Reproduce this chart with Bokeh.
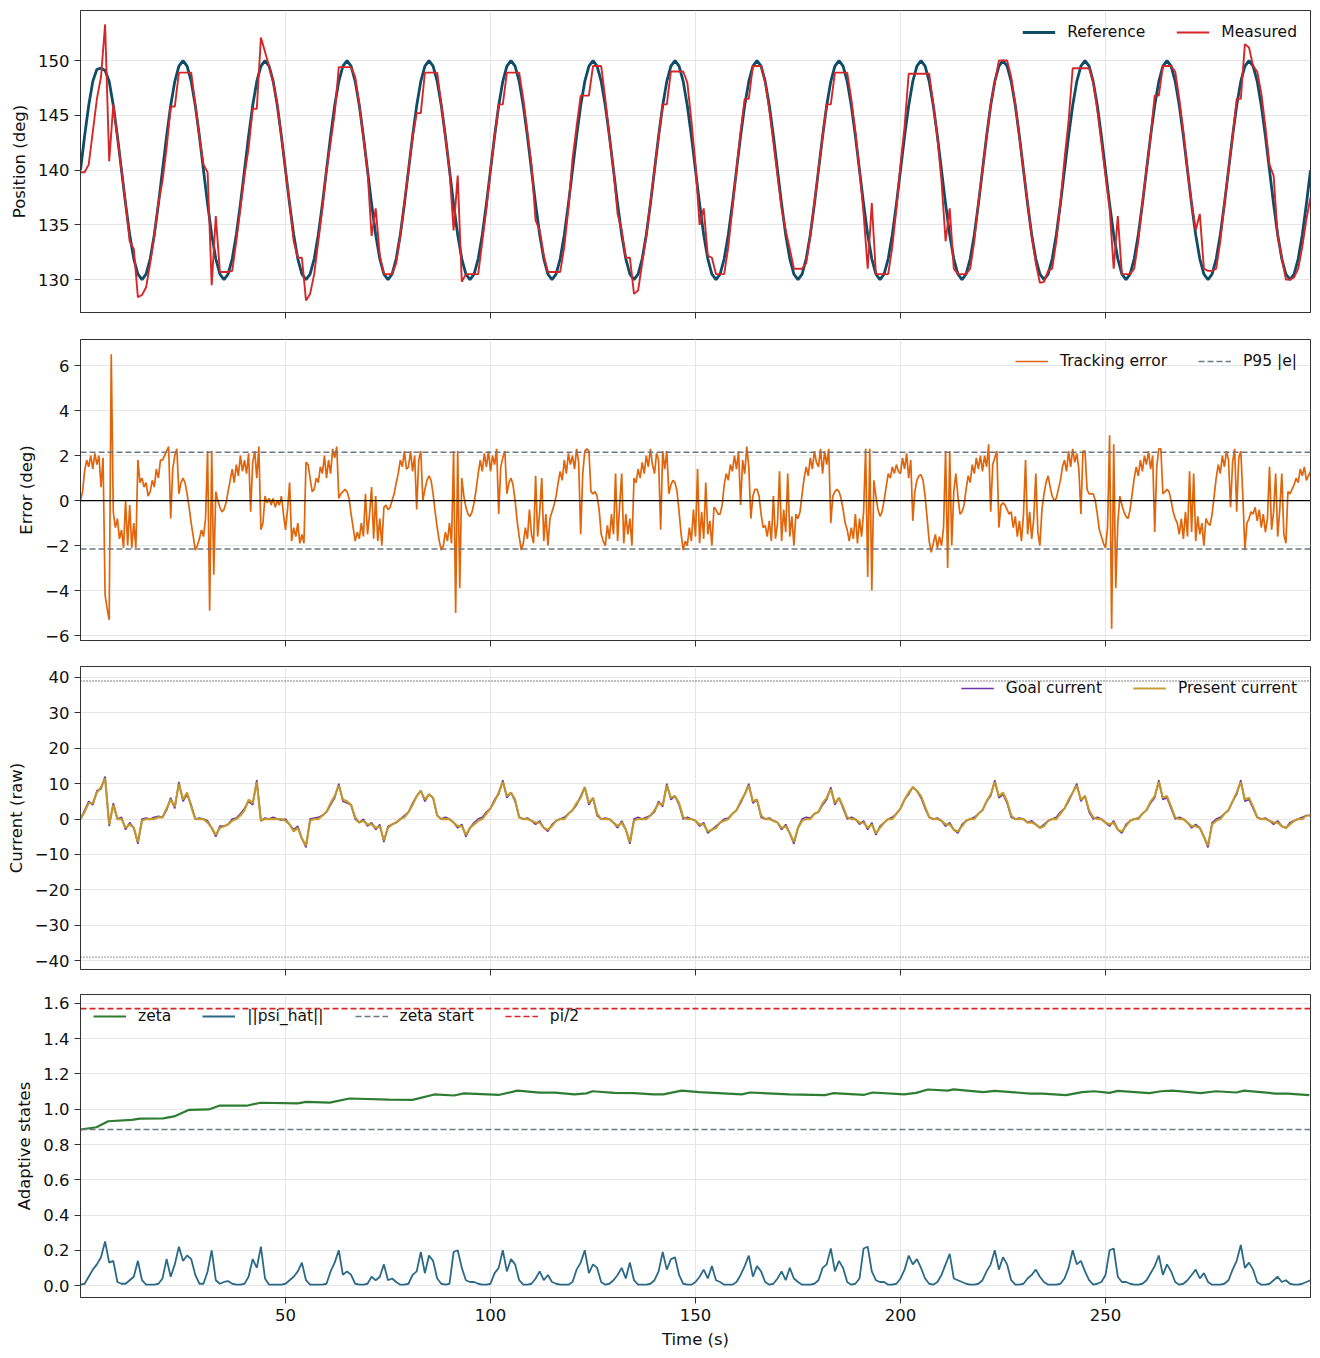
import math
from bokeh.plotting import figure
from bokeh.layouts import column
from bokeh.models import Range1d, FixedTicker, Legend, LegendItem, Span
from bokeh.embed import file_html
from bokeh.resources import INLINE

# ---------------- data ----------------
DT = 1.0       # s, sampling of position / current / psi series
DT_ERR = 0.5   # s, sampling of tracking error series

reference_deg = [
    140.0, 143.1, 145.9, 148.1, 149.2, 149.3, 149.1, 148.1, 145.9, 143.1, 140.0, 136.9, 134.1, 131.9, 130.5, 130.0, 130.5, 131.9, 134.1, 136.9,
    140.0, 143.1, 145.9, 148.1, 149.5, 150.0, 149.5, 148.1, 145.9, 143.1, 140.0, 136.9, 134.1, 131.9, 130.5, 130.0, 130.5, 131.9, 134.1, 136.9,
    140.0, 143.1, 145.9, 148.1, 149.5, 150.0, 149.5, 148.1, 145.9, 143.1, 140.0, 136.9, 134.1, 131.9, 130.5, 130.0, 130.5, 131.9, 134.1, 136.9,
    140.0, 143.1, 145.9, 148.1, 149.5, 150.0, 149.5, 148.1, 145.9, 143.1, 140.0, 136.9, 134.1, 131.9, 130.5, 130.0, 130.5, 131.9, 134.1, 136.9,
    140.0, 143.1, 145.9, 148.1, 149.5, 150.0, 149.5, 148.1, 145.9, 143.1, 140.0, 136.9, 134.1, 131.9, 130.5, 130.0, 130.5, 131.9, 134.1, 136.9,
    140.0, 143.1, 145.9, 148.1, 149.5, 150.0, 149.5, 148.1, 145.9, 143.1, 140.0, 136.9, 134.1, 131.9, 130.5, 130.0, 130.5, 131.9, 134.1, 136.9,
    140.0, 143.1, 145.9, 148.1, 149.5, 150.0, 149.5, 148.1, 145.9, 143.1, 140.0, 136.9, 134.1, 131.9, 130.5, 130.0, 130.5, 131.9, 134.1, 136.9,
    140.0, 143.1, 145.9, 148.1, 149.5, 150.0, 149.5, 148.1, 145.9, 143.1, 140.0, 136.9, 134.1, 131.9, 130.5, 130.0, 130.5, 131.9, 134.1, 136.9,
    140.0, 143.1, 145.9, 148.1, 149.5, 150.0, 149.5, 148.1, 145.9, 143.1, 140.0, 136.9, 134.1, 131.9, 130.5, 130.0, 130.5, 131.9, 134.1, 136.9,
    140.0, 143.1, 145.9, 148.1, 149.5, 150.0, 149.5, 148.1, 145.9, 143.1, 140.0, 136.9, 134.1, 131.9, 130.5, 130.0, 130.5, 131.9, 134.1, 136.9,
    140.0, 143.1, 145.9, 148.1, 149.5, 150.0, 149.5, 148.1, 145.9, 143.1, 140.0, 136.9, 134.1, 131.9, 130.5, 130.0, 130.5, 131.9, 134.1, 136.9,
    140.0, 143.1, 145.9, 148.1, 149.5, 150.0, 149.5, 148.1, 145.9, 143.1, 140.0, 136.9, 134.1, 131.9, 130.5, 130.0, 130.5, 131.9, 134.1, 136.9,
    140.0, 143.1, 145.9, 148.1, 149.5, 150.0, 149.5, 148.1, 145.9, 143.1, 140.0, 136.9, 134.1, 131.9, 130.5, 130.0, 130.5, 131.9, 134.1, 136.9,
    140.0, 143.1, 145.9, 148.1, 149.5, 150.0, 149.5, 148.1, 145.9, 143.1, 140.0, 136.9, 134.1, 131.9, 130.5, 130.0, 130.5, 131.9, 134.1, 136.9,
    140.0, 143.1, 145.9, 148.1, 149.5, 150.0, 149.5, 148.1, 145.9, 143.1, 140.0, 136.9, 134.1, 131.9, 130.5, 130.0, 130.5, 131.9, 134.1, 136.9,
    140.0,
]

measured_deg = [
    139.8, 139.8, 140.5, 143.5, 146.5, 148.5, 153.3, 140.8, 146.0, 143.0, 140.0, 137.0, 133.5, 132.8, 128.4, 128.6, 129.3, 131.5, 134.0, 137.0,
    139.0, 142.0, 145.8, 145.8, 148.9, 148.9, 148.9, 148.9, 146.0, 143.0, 140.5, 139.8, 129.5, 135.8, 130.7, 130.7, 130.7, 130.8, 133.5, 136.5,
    139.5, 142.0, 145.6, 145.6, 152.1, 150.8, 149.5, 148.0, 146.0, 143.0, 140.0, 137.0, 133.5, 132.0, 132.0, 128.1, 128.7, 130.5, 133.5, 136.5,
    140.0, 142.5, 145.2, 149.4, 149.4, 149.4, 149.4, 148.5, 146.0, 143.0, 140.0, 134.0, 136.5, 132.2, 130.5, 130.5, 130.5, 131.5, 134.0, 137.0,
    140.0, 143.0, 145.2, 145.2, 148.9, 148.9, 148.9, 148.9, 146.0, 143.0, 140.0, 134.5, 139.5, 129.8, 130.5, 130.5, 130.5, 130.5, 133.5, 136.5,
    140.0, 143.0, 146.0, 146.0, 148.9, 148.9, 148.9, 148.9, 146.5, 143.5, 140.5, 135.4, 134.5, 132.2, 130.7, 130.7, 130.7, 130.7, 133.0, 136.5,
    141.0, 144.0, 146.8, 146.8, 146.8, 149.5, 149.5, 149.5, 146.5, 143.0, 140.0, 136.0, 134.5, 132.0, 132.0, 128.7, 129.0, 131.5, 134.0, 137.0,
    140.0, 143.0, 146.0, 146.0, 149.0, 149.0, 149.0, 149.0, 148.0, 144.5, 140.5, 135.0, 136.5, 132.2, 132.0, 130.5, 130.5, 130.5, 133.0, 136.5,
    140.0, 143.5, 146.5, 146.5, 149.5, 149.5, 149.5, 148.0, 145.5, 142.5, 139.5, 136.5, 134.5, 132.8, 131.0, 131.0, 131.0, 131.5, 134.0, 137.0,
    140.0, 143.0, 146.0, 146.0, 148.9, 148.9, 148.9, 148.9, 146.5, 143.5, 140.0, 136.0, 131.0, 137.0, 130.5, 130.5, 130.5, 130.5, 133.0, 136.5,
    140.5, 144.0, 148.8, 148.8, 148.8, 148.8, 148.8, 148.8, 146.0, 143.0, 139.0, 133.5, 136.5, 131.0, 130.5, 130.5, 130.5, 131.0, 133.5, 137.0,
    140.0, 143.0, 146.0, 148.0, 150.0, 150.0, 150.0, 148.5, 146.0, 143.0, 140.0, 137.0, 134.0, 131.5, 129.7, 129.8, 130.8, 131.0, 133.5, 137.0,
    141.0, 144.5, 149.3, 149.3, 149.3, 149.3, 149.3, 148.0, 145.5, 142.5, 139.5, 136.5, 131.0, 135.8, 130.5, 130.5, 130.5, 131.0, 133.5, 137.0,
    140.0, 143.0, 146.8, 146.8, 149.5, 149.5, 149.5, 149.0, 146.5, 143.5, 140.0, 137.0, 134.5, 136.0, 131.0, 130.8, 130.8, 131.0, 133.5, 137.0,
    140.0, 143.0, 146.5, 146.5, 151.5, 151.2, 149.5, 149.0, 147.0, 144.0, 140.5, 139.5, 134.0, 132.0, 130.0, 130.0, 130.2, 131.0, 133.0, 135.5,
    137.5,
]

tracking_error_deg = [
    0.0, 0.4, 1.3, 1.8, 1.5, 2.0, 1.4, 2.1, 1.6, 2.0, 0.6, 1.9, -4.2, -4.8, -5.3, 6.5, -0.5, -1.2, -0.8, -1.7,
    -1.3, -2.1, 0.0, -2.0, -0.2, -2.1, -1.0, -2.1, 1.8, 0.8, 1.0, 0.6, 0.8, 0.2, 0.4, 0.9, 0.6, 1.4, 1.0, 1.8,
    1.8, 2.0, 2.2, 2.4, -0.8, 1.4, 2.0, 2.3, 0.3, 0.8, 1.0, 0.8, 0.3, -0.3, -1.0, -1.6, -2.2, -2.0, -1.7, -1.3,
    -1.6, -0.8, 2.2, -4.9, 2.2, -3.3, 0.4, 0.0, -0.3, -0.5, -0.4, -0.1, 0.4, 0.9, 1.4, 0.8, 1.6, 1.1, 2.0, 1.3,
    1.8, 1.2, 2.1, -0.5, 1.7, 2.2, 1.0, 2.4, -1.3, -1.0, 0.2, -0.1, 0.1, -0.2, 0.1, -0.3, 0.0, -0.2, 0.2, -0.6,
    -1.3, -0.4, 0.8, -1.8, -1.2, -1.6, -1.0, -1.9, -1.5, -1.9, 1.7, 1.6, 1.0, 0.4, 0.5, 1.0, 0.8, 1.5, 1.2, 2.0,
    1.0, 1.8, 1.2, 2.3, 1.9, 2.4, 0.1, 0.3, 0.4, 0.5, 0.4, 0.1, -0.6, -1.2, -1.8, -1.4, -1.7, -1.0, -1.6, 0.3,
    -1.5, -0.6, 0.6, -1.7, 0.2, -1.8, -0.8, -2.0, -0.3, -0.2, -0.4, -0.3, 0.0, 0.3, 0.8, 1.2, 1.8, 1.5, 2.2, 1.4,
    1.5, 2.2, 1.3, 2.0, -0.4, 1.8, 2.2, 0.0, 0.5, 0.9, 1.1, 0.9, 0.3, -0.5, -1.2, -1.8, -2.2, -2.0, -1.4, -1.8,
    -1.0, -1.9, 2.2, -5.0, 2.2, -3.9, 1.0, 0.2, -0.3, -0.6, -0.7, -0.5, -0.1, 0.5, 1.2, 1.8, 1.3, 2.1, 1.5, 2.2,
    1.3, 2.0, 1.6, 2.3, -0.6, 1.5, 1.9, 2.2, 0.3, 0.8, 1.0, 0.7, 0.0, -0.9, -1.6, -2.2, -1.9, -1.2, -1.7, -0.4,
    -1.5, -1.9, 1.1, -1.6, -0.5, 1.0, -1.8, -0.6, -2.0, -0.8, -0.5, -0.2, 0.2, 0.8, 1.3, 0.9, 1.8, 1.2, 2.1, 1.6,
    2.0, 1.4, 2.3, 1.7, -1.5, 1.2, 2.2, 2.3, 2.2, 0.4, 0.3, 0.4, 0.2, -0.4, -1.5, -1.8, -2.0, -1.1, -1.7, -0.6,
    -1.5, 1.2, -1.8, -0.2, 1.2, -1.9, -0.6, -1.5, -0.8, -2.0, 1.0, 0.8, 1.4, 1.0, 1.7, 1.2, 2.0, 1.5, 2.3, 1.6,
    1.2, 2.1, 1.8, -1.3, 2.2, 1.4, 2.2, 0.3, 0.7, 0.9, 0.8, 0.4, -0.5, -1.5, -2.2, -1.8, -2.0, -1.2, -1.8, -0.4,
    -1.6, 1.4, -1.9, -0.5, -1.7, 0.8, -1.5, -0.9, -2.0, -0.3, -0.4, -0.6, -0.6, -0.2, 0.7, 1.2, 0.9, 1.6, 1.3, 2.0,
    1.4, 2.2, -0.2, 1.8, 1.2, 2.4, 1.5, -0.8, 0.2, 0.5, 0.5, 0.2, -0.6, -1.2, -1.1, -1.6, -0.9, -1.8, 0.2, -1.7,
    -1.0, 1.3, -1.8, -0.4, -1.4, 1.2, -1.6, -0.7, -2.0, -0.6, -0.8, -0.5, 0.3, 1.0, 1.5, 1.1, 1.9, 1.4, 2.2, 1.7,
    1.5, 2.3, 1.2, 2.2, 1.6, 2.3, -1.0, 0.2, 0.4, 0.5, 0.4, 0.1, -0.4, -1.0, -1.3, -1.8, -1.2, -1.7, -0.6, -1.9,
    -0.8, -1.6, -0.5, 2.3, -3.4, 2.3, -4.0, 0.9, 0.2, -0.4, -0.7, -0.5, 0.0, 0.6, 1.2, 1.0, 1.5, 1.2, 1.6, 1.3,
    1.2, 1.9, 1.4, 2.1, 1.0, 1.8, -0.9, 0.4, 0.9, 1.1, 1.15, 0.9, 0.2, -0.8, -1.8, -2.3, -1.9, -1.5, -2.1, -1.6,
    -2.0, -1.2, 2.2, -3.0, 2.2, -2.0, 0.4, 1.2, 0.2, -0.6, -0.5, -0.2, 0.5, 1.1, 0.8, 1.6, 1.2, 1.9, 1.4, 2.0,
    1.3, 2.0, 1.5, 2.5, -0.5, 1.6, 1.9, 2.2, -1.2, -0.2, -0.1, -0.2, -0.4, -0.6, -0.5, -1.2, -0.7, -1.6, -0.9, -1.8,
    -0.6, 1.8, -1.5, -0.5, -1.7, -0.8, 1.2, -1.4, -2.0, -0.4, 0.3, 0.8, 1.1, 0.6, 0.2, 0.0, 0.1, 0.5, 0.9, 1.5,
    1.8, 1.3, 2.2, 1.5, 2.3, 1.7, 2.1, 1.4, -0.6, 2.2, 2.2, 0.5, 0.3, 0.3, 0.3, 0.0, -0.6, -1.3, -1.6, -1.9,
    -2.1, -1.2, 2.9, -5.7, 2.5, -3.9, -1.0, 0.2, -0.2, -0.5, -0.7, -0.8, -0.4, 0.3, 1.0, 1.5, 1.1, 1.8, 1.3, 2.0,
    1.6, 2.2, 1.4, 2.0, -1.4, 1.5, 2.3, 2.3, 0.3, 0.4, 0.5, 0.4, 0.0, -0.5, -0.8, -1.0, -1.5, -0.8, -1.7, -0.5,
    -1.6, 1.3, -1.4, 1.2, -1.8, -0.7, -1.5, -1.0, -2.0, -0.8, -1.0, -1.1, -0.6, 0.2, 1.0, 1.6, 1.2, 2.0, 1.5, 2.2,
    1.8, -0.3, 1.7, 2.3, -0.5, 1.9, 2.2, 0.2, -2.2, -1.0, -0.8, -0.5, -0.6, -0.3, -0.9, -0.4, -1.2, -0.6, -1.4, -0.8,
    1.5, -1.3, -0.5, 1.2, -1.6, -0.4, 1.2, -1.5, -1.9, 0.4, 0.3, 0.5, 0.7, 1.0, 0.8, 1.4, 1.1, 1.5, 0.9, 1.1,
    1.3,
]
P95_ABS_ERROR = 2.15

goal_current = [
    0.0, 2.5, 5.0, 4.0, 8.0, 8.5, 12.0, -2.0, 4.5, 0.0, 0.5, -3.0, -1.0, -2.5, -7.0, 0.0, 0.3, 0.0, 0.5, 0.8,
    0.5, 2.5, 6.0, 3.0, 10.5, 5.0, 7.0, 4.0, 0.0, 0.3, 0.0, -0.5, -2.5, -5.0, -2.0, -2.0, -1.5, 0.0, 0.3, 1.5,
    3.0, 5.0, 4.0, 11.0, -0.5, 0.3, 0.0, 0.5, 0.0, -0.3, 0.0, -1.5, -3.0, -2.0, -5.5, -8.0, 0.0, 0.3, 0.5, 1.0,
    2.0, 4.0, 6.0, 10.0, 5.0, 4.5, 4.0, 0.0, -1.0, 0.0, -2.0, -1.0, -3.0, -1.5, -6.5, -2.0, -1.5, -1.0, 0.0, 1.0,
    2.0, 4.5, 6.5, 8.0, 5.0, 7.0, 6.0, 1.0, 0.0, 0.5, 0.0, -1.0, -2.5, -1.5, -5.0, -2.5, -1.0, 0.0, 0.5, 2.0,
    3.0, 5.5, 7.0, 11.0, 6.0, 7.5, 5.0, 0.5, 0.0, 0.3, -0.5, -1.5, -0.5, -2.5, -3.5, -1.5, -0.5, 0.0, 0.5, 1.5,
    2.5, 4.0, 6.5, 9.0, 4.0, 6.0, 1.0, 0.0, 0.3, 0.0, -1.0, -2.5, -0.5, -3.0, -7.0, 0.0, 0.5, 0.0, 0.5, 1.0,
    2.0, 5.0, 3.5, 10.0, 5.5, 6.5, 4.0, 0.0, 0.5, 0.0, -0.5, -2.0, -1.0, -4.0, -3.0, -2.0, -1.0, 0.0, 0.3, 1.5,
    2.5, 4.5, 7.0, 10.0, 4.5, 5.5, 0.5, 0.0, 0.3, -0.5, -1.0, -3.0, -1.5, -4.0, -7.0, -2.5, 0.0, 0.5, 0.3, 1.5,
    2.0, 4.0, 5.5, 9.0, 4.0, 6.0, 3.0, 0.0, 0.5, 0.0, -1.5, -0.5, -3.0, -1.0, -4.5, -2.0, -1.0, 0.0, 0.5, 1.5,
    3.0, 5.5, 7.0, 9.0, 8.0, 6.0, 3.0, 0.5, 0.0, 0.3, -0.5, -2.0, -1.0, -3.0, -4.0, -1.5, -0.5, 0.0, 0.5, 1.5,
    2.5, 5.0, 6.5, 11.0, 6.0, 7.0, 4.5, 0.5, 0.0, 0.3, 0.0, -1.0, -0.5, -1.5, -2.5, -1.5, -0.5, 0.0, 0.5, 2.0,
    3.0, 5.0, 7.5, 10.0, 5.0, 6.5, 2.0, 0.0, 0.5, 0.0, -1.0, -2.0, -0.5, -3.0, -4.0, -1.5, -0.5, 0.0, 0.3, 1.5,
    2.5, 4.5, 6.0, 11.0, 5.5, 6.0, 3.0, 0.0, 0.5, 0.0, -1.0, -2.5, -1.5, -2.5, -5.0, -8.0, -1.0, 0.0, 0.5, 1.5,
    2.5, 5.0, 7.0, 11.0, 5.0, 5.5, 3.0, 0.5, 0.0, 0.3, -0.5, -1.5, -0.5, -2.0, -2.5, -1.0, -0.5, 0.0, 0.5, 1.0,
    1.0,
]

present_current = [
    0.0, 2.0, 4.5, 4.5, 7.5, 9.0, 11.5, -1.5, 4.0, 0.0, 0.0, -2.5, -1.5, -2.5, -6.5, -0.5, 0.0, 0.0, 0.0, 0.5,
    0.5, 3.0, 5.5, 3.5, 10.0, 5.5, 7.5, 3.5, 0.0, 0.0, 0.0, -1.0, -2.5, -4.5, -2.5, -2.0, -1.5, -0.5, 0.0, 1.0,
    2.5, 5.5, 4.5, 10.5, -0.5, 0.0, 0.0, 0.0, 0.0, 0.0, -0.5, -1.5, -3.5, -2.5, -5.5, -7.5, -0.5, 0.0, 0.0, 1.0,
    2.0, 4.5, 6.5, 9.5, 5.5, 5.0, 4.0, 0.5, -1.0, -0.5, -1.5, -1.5, -2.5, -2.0, -6.0, -2.5, -1.5, -1.0, 0.0, 0.5,
    2.0, 4.0, 6.5, 8.0, 5.5, 7.0, 6.0, 1.0, 0.0, 0.0, 0.0, -1.0, -2.0, -2.0, -4.5, -2.5, -1.5, -0.5, 0.0, 1.5,
    3.0, 5.0, 7.5, 10.5, 6.5, 7.5, 5.5, 0.5, 0.0, 0.0, -0.5, -1.0, -1.0, -2.5, -3.0, -2.0, -0.5, 0.0, 0.0, 1.5,
    2.5, 4.5, 6.0, 9.0, 4.5, 6.0, 1.5, 0.0, 0.0, 0.0, -1.0, -2.0, -1.0, -3.0, -6.5, -0.5, 0.0, 0.0, 0.0, 1.0,
    2.5, 4.5, 4.0, 9.5, 6.0, 6.5, 4.5, 0.5, 0.0, 0.0, -0.5, -1.5, -1.5, -3.5, -3.0, -2.5, -1.0, -0.5, 0.0, 1.5,
    2.5, 5.0, 7.0, 9.5, 5.0, 5.5, 1.0, 0.0, 0.0, -0.5, -1.0, -2.5, -2.0, -4.0, -6.5, -2.5, -0.5, 0.0, 0.0, 1.5,
    2.0, 4.5, 6.0, 8.5, 4.5, 6.0, 3.5, 0.5, 0.0, 0.0, -1.0, -1.0, -2.5, -1.5, -4.0, -2.5, -1.0, 0.0, 0.0, 1.5,
    3.0, 5.5, 7.5, 9.0, 8.0, 6.5, 3.5, 0.5, 0.0, 0.0, -0.5, -1.5, -1.5, -3.0, -3.5, -2.0, -0.5, 0.0, 0.0, 1.5,
    2.5, 5.0, 7.0, 10.5, 6.5, 7.5, 5.0, 1.0, 0.0, 0.0, 0.0, -1.0, -1.0, -1.5, -2.5, -2.0, -0.5, 0.0, 0.0, 1.5,
    3.0, 5.5, 7.5, 9.5, 5.5, 6.5, 2.5, 0.5, 0.0, 0.0, -1.0, -1.5, -1.0, -3.0, -3.5, -2.0, -0.5, 0.0, 0.0, 1.5,
    2.5, 5.0, 6.5, 10.5, 6.0, 6.5, 3.5, 0.5, 0.0, 0.0, -1.0, -2.0, -2.0, -2.5, -5.0, -7.5, -1.5, -0.5, 0.0, 1.5,
    2.5, 5.0, 7.5, 10.5, 5.5, 6.0, 3.5, 0.5, 0.0, 0.0, -0.5, -1.0, -1.0, -2.0, -2.5, -1.5, -0.5, 0.0, 0.0, 1.0,
    1.0,
]
CURRENT_LIMIT = 39.0

psi_hat_norm = [
    0.005, 0.01, 0.05, 0.09, 0.12, 0.16, 0.25, 0.13, 0.14, 0.02, 0.01, 0.01, 0.03, 0.05, 0.14, 0.03, 0.005, 0.005, 0.005, 0.01,
    0.04, 0.15, 0.05, 0.12, 0.22, 0.14, 0.17, 0.15, 0.06, 0.01, 0.01, 0.08, 0.20, 0.03, 0.01, 0.02, 0.025, 0.01, 0.005, 0.005,
    0.01, 0.05, 0.15, 0.10, 0.22, 0.04, 0.005, 0.005, 0.005, 0.005, 0.01, 0.03, 0.05, 0.08, 0.13, 0.03, 0.005, 0.005, 0.005, 0.005,
    0.01, 0.08, 0.13, 0.20, 0.06, 0.08, 0.06, 0.01, 0.005, 0.005, 0.01, 0.05, 0.03, 0.05, 0.12, 0.03, 0.04, 0.02, 0.005, 0.005,
    0.01, 0.06, 0.08, 0.19, 0.07, 0.17, 0.14, 0.04, 0.01, 0.005, 0.01, 0.19, 0.20, 0.10, 0.03, 0.02, 0.02, 0.01, 0.005, 0.005,
    0.01, 0.07, 0.10, 0.20, 0.08, 0.15, 0.12, 0.03, 0.005, 0.005, 0.01, 0.04, 0.08, 0.03, 0.06, 0.02, 0.01, 0.005, 0.005, 0.005,
    0.02, 0.09, 0.13, 0.20, 0.07, 0.12, 0.10, 0.02, 0.005, 0.01, 0.03, 0.06, 0.10, 0.04, 0.13, 0.03, 0.005, 0.005, 0.005, 0.01,
    0.03, 0.08, 0.19, 0.09, 0.15, 0.16, 0.06, 0.01, 0.005, 0.005, 0.02, 0.05, 0.09, 0.04, 0.11, 0.03, 0.02, 0.005, 0.005, 0.005,
    0.02, 0.06, 0.11, 0.17, 0.05, 0.11, 0.08, 0.02, 0.005, 0.01, 0.04, 0.08, 0.03, 0.10, 0.04, 0.02, 0.005, 0.005, 0.005, 0.01,
    0.03, 0.10, 0.12, 0.21, 0.08, 0.14, 0.10, 0.02, 0.005, 0.01, 0.04, 0.21, 0.22, 0.08, 0.03, 0.02, 0.02, 0.005, 0.005, 0.01,
    0.04, 0.09, 0.17, 0.12, 0.15, 0.10, 0.04, 0.01, 0.005, 0.02, 0.06, 0.12, 0.18, 0.04, 0.03, 0.02, 0.01, 0.005, 0.005, 0.01,
    0.03, 0.08, 0.12, 0.20, 0.09, 0.16, 0.12, 0.03, 0.005, 0.005, 0.01, 0.04, 0.06, 0.09, 0.05, 0.02, 0.005, 0.005, 0.005, 0.01,
    0.04, 0.10, 0.20, 0.12, 0.14, 0.08, 0.03, 0.005, 0.01, 0.02, 0.06, 0.20, 0.21, 0.05, 0.02, 0.02, 0.01, 0.005, 0.005, 0.01,
    0.03, 0.07, 0.11, 0.17, 0.06, 0.12, 0.08, 0.02, 0.005, 0.01, 0.03, 0.06, 0.09, 0.04, 0.07, 0.02, 0.005, 0.005, 0.005, 0.01,
    0.03, 0.09, 0.14, 0.23, 0.10, 0.13, 0.09, 0.02, 0.005, 0.005, 0.01, 0.03, 0.05, 0.02, 0.03, 0.01, 0.005, 0.005, 0.01, 0.02,
    0.03,
]

zeta_time = [0, 3.9, 6.75, 12.5, 14.5, 20.2, 23.1, 26.5, 31.3, 33.8, 40.5, 43.9, 53, 55, 60.8, 65.6, 75.2, 81, 86.3,
             91.1, 93.5, 102.2, 106.6, 111.9, 115.7, 120.5, 123.4, 124.9, 130.2, 135, 139.8, 142.2, 146.6, 150.9,
             161.3, 163.3, 172.9, 181.6, 183.5, 191.2, 193.2, 200.9, 203.8, 206.7, 211.5, 212.9, 220.2, 223, 231.7,
             234.6, 240.4, 244.3, 247.2, 251, 253, 260.7, 263.6, 266.4, 273.2, 277, 281.9, 283.8, 291.5, 294.4, 299.7]
zeta_value = [0.885, 0.898, 0.932, 0.94, 0.947, 0.948, 0.961, 0.997, 0.999, 1.02, 1.02, 1.037, 1.033, 1.042, 1.038,
              1.061, 1.055, 1.053, 1.084, 1.078, 1.09, 1.082, 1.106, 1.094, 1.094, 1.084, 1.09, 1.102, 1.093, 1.091,
              1.084, 1.084, 1.106, 1.097, 1.084, 1.095, 1.084, 1.08, 1.091, 1.082, 1.095, 1.084, 1.093, 1.112, 1.106,
              1.113, 1.097, 1.104, 1.089, 1.089, 1.08, 1.097, 1.102, 1.093, 1.104, 1.091, 1.102, 1.106, 1.091, 1.102,
              1.095, 1.106, 1.089, 1.089, 1.08]
ZETA_START = 0.885
PI_HALF = math.pi / 2

X_TICKS = [50, 100, 150, 200, 250]

assert len(reference_deg) == len(measured_deg) == len(goal_current) == len(present_current) == len(psi_hat_norm) == 301
assert len(tracking_error_deg) == 601
assert len(zeta_time) == len(zeta_value)

t = [i * DT for i in range(len(reference_deg))]
t_err = [i * DT_ERR for i in range(len(tracking_error_deg))]
t_span = [t[0], t[-1]]

# ---------------- styling helpers ----------------
FONT = "DejaVu Sans"
FRAME = "#333333"
GRID = "#e6e6e6"
TXT = "#111111"
TICK_FS = "16.5px"
LEG_FS = "15.5px"
x_range = Range1d(0, 300)


def minus(v, fmt="{:g}"):
    s = fmt.format(v)
    return s.replace("-", "\u2212")


def make_fig(height, top, bottom, yr, yticks, ylabel, yfmt="{:g}", show_x=False):
    p = figure(width=1320, height=height, x_range=x_range, y_range=Range1d(*yr),
               output_backend="svg", toolbar_location=None,
               min_border_left=80, min_border_right=10,
               min_border_top=top, min_border_bottom=bottom)
    p.background_fill_color = "white"
    p.border_fill_color = "white"
    p.outline_line_color = FRAME
    p.outline_line_width = 1
    p.outline_line_alpha = 1
    for ax in (p.xaxis[0], p.yaxis[0]):
        ax.axis_line_color = FRAME
        ax.major_tick_line_color = FRAME
        ax.major_tick_in = 0
        ax.major_tick_out = 6
        ax.minor_tick_line_color = None
        ax.major_label_text_font = FONT
        ax.major_label_text_font_size = TICK_FS
        ax.major_label_text_color = TXT
        ax.major_label_standoff = 5
        ax.axis_label_text_font = FONT
        ax.axis_label_text_font_size = TICK_FS
        ax.axis_label_text_font_style = "normal"
        ax.axis_label_text_color = TXT
        ax.axis_label_standoff = 6
    p.xaxis.ticker = FixedTicker(ticks=X_TICKS)
    p.yaxis.ticker = FixedTicker(ticks=yticks)
    p.yaxis.major_label_overrides = {v: minus(v, yfmt) for v in yticks}
    if show_x:
        p.xaxis.axis_label = "Time (s)"
    else:
        p.xaxis.major_label_overrides = {v: "" for v in X_TICKS}
    p.yaxis.axis_label = ylabel
    p.xgrid.grid_line_color = GRID
    p.ygrid.grid_line_color = GRID
    p.xgrid.grid_line_width = 1
    p.ygrid.grid_line_width = 1
    return p


def add_legend(p, items, location):
    lg = Legend(items=[LegendItem(label=lab, renderers=[r]) for lab, r in items],
                location=location, orientation="horizontal")
    lg.background_fill_alpha = 0
    lg.border_line_alpha = 0
    lg.label_text_font = FONT
    lg.label_text_font_size = LEG_FS
    lg.label_text_color = TXT
    lg.glyph_width = 33
    lg.glyph_height = 18
    lg.label_height = 18
    lg.label_standoff = 12
    lg.spacing = 31
    lg.padding = 7
    lg.margin = 6
    p.add_layout(lg)


# ---------------- panel 1: position ----------------
p1 = make_fig(338, 10, 26, (127.0, 154.57), [130, 135, 140, 145, 150], "Position (deg)")
r_ref = p1.line(t, reference_deg, line_color="#0f4c68", line_width=2.8)
r_meas = p1.line(t, measured_deg, line_color="#d62728", line_width=1.9)
add_legend(p1, [("Reference", r_ref), ("Measured", r_meas)], "top_right")

# ---------------- panel 2: tracking error ----------------
p2 = make_fig(327, 1, 25, (-6.22, 7.16), [-6, -4, -2, 0, 2, 4, 6], "Error (deg)")
r_err = p2.line(t_err, tracking_error_deg, line_color="#e0650b", line_width=1.7)
p2.add_layout(Span(location=0, dimension="width", line_color="black", line_width=1.3))
r_p95 = p2.line(t_span, [P95_ABS_ERROR, P95_ABS_ERROR], line_color="#6f7882", line_width=1.6, line_dash="6 3")
p2.line(t_span, [-P95_ABS_ERROR, -P95_ABS_ERROR], line_color="#6f7882", line_width=1.6, line_dash="6 3")
add_legend(p2, [("Tracking error", r_err), ("P95 |e|", r_p95)], "top_right")

# ---------------- panel 3: current ----------------
p3 = make_fig(328, 1, 24, (-42.5, 43.1), [-40, -30, -20, -10, 0, 10, 20, 30, 40], "Current (raw)")
r_goal = p3.line(t, goal_current, line_color="#6a35a8", line_width=1.6)
r_pres = p3.line(t, present_current, line_color="#c49a28", line_width=2.2, line_alpha=0.95)
p3.line(t_span, [CURRENT_LIMIT, CURRENT_LIMIT], line_color="#555555", line_width=1.3, line_dash="1 2")
p3.line(t_span, [-CURRENT_LIMIT, -CURRENT_LIMIT], line_color="#555555", line_width=1.3, line_dash="1 2")
add_legend(p3, [("Goal current", r_goal), ("Present current", r_pres)], "top_right")

# ---------------- panel 4: adaptive states ----------------
p4 = make_fig(365, 1, 61, (-0.068, 1.651), [0.0, 0.2, 0.4, 0.6, 0.8, 1.0, 1.2, 1.4, 1.6], "Adaptive states",
              yfmt="{:.1f}", show_x=True)
r_zeta = p4.line(zeta_time, zeta_value, line_color="#2e7d32", line_width=2.2)
r_psi = p4.line(t, psi_hat_norm, line_color="#2b6a87", line_width=1.8)
r_zs = p4.line(t_span, [ZETA_START, ZETA_START], line_color="#6f7882", line_width=1.6, line_dash="6 3")
r_pi = p4.line(t_span, [PI_HALF, PI_HALF], line_color="#d62728", line_width=1.6, line_dash="6 3")
add_legend(p4, [("zeta", r_zeta), ("||psi_hat||", r_psi), ("zeta start", r_zs), ("pi/2", r_pi)], "top_left")

layout = column(p1, p2, p3, p4, spacing=0)
open("out.html", "w").write(file_html(layout, INLINE))
